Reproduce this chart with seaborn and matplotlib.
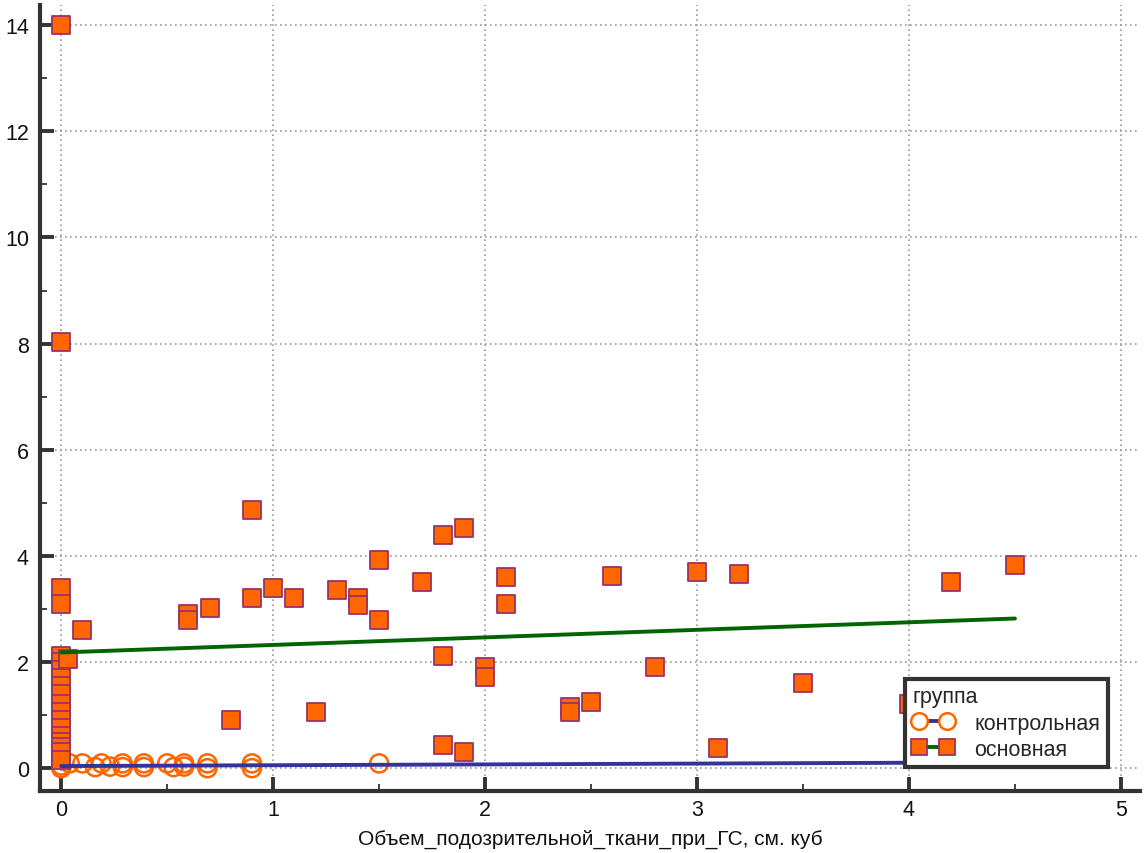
import matplotlib
matplotlib.use("Agg")
import matplotlib.pyplot as plt
from matplotlib.lines import Line2D
import seaborn as sns
import pandas as pd

# Main group (основная): volume of suspicious tissue vs. measured value
main_x = [0, 0, 0, 0, 0, 0, 0, 0, 0, 0, 0, 0, 0, 0, 0, 0, 0, 0, 0, 0.03,
          0.1, 0.6, 0.6, 0.7, 0.8, 0.9, 0.9, 1.0, 1.1, 1.2, 1.3, 1.4, 1.4,
          1.5, 1.5, 1.7, 1.8, 1.8, 1.8, 1.9, 1.9, 2.0, 2.0, 2.1, 2.1, 2.4,
          2.4, 2.5, 2.6, 2.8, 3.0, 3.1, 3.2, 3.5, 4.0, 4.2, 4.5]
main_y = [14.0, 8.03, 3.4, 3.1, 2.12, 2.0, 1.85, 1.7, 1.55, 1.4, 1.2, 1.05,
          0.9, 0.75, 0.6, 0.5, 0.4, 0.3, 0.15, 2.05,
          2.6, 2.9, 2.8, 3.02, 0.9, 4.87, 3.2, 3.4, 3.2, 1.05, 3.35, 3.2, 3.07,
          3.92, 2.8, 3.5, 4.4, 2.11, 0.43, 4.53, 0.3, 1.9, 1.71, 3.6, 3.1, 1.15,
          1.05, 1.24, 3.62, 1.9, 3.7, 0.38, 3.66, 1.6, 1.2, 3.5, 3.82]

# Control group (контрольная)
ctrl_x = [0, 0, 0.04, 0.1, 0.16, 0.19, 0.23, 0.29, 0.29, 0.39, 0.39, 0.5,
          0.53, 0.58, 0.58, 0.69, 0.69, 0.9, 0.9, 1.5]
ctrl_y = [0.05, 0.0, 0.09, 0.09, 0.02, 0.09, 0.03, 0.09, 0.02, 0.09, 0.02,
          0.09, 0.02, 0.09, 0.03, 0.09, 0.0, 0.09, 0.0, 0.09]

# Linear trend lines per group
main_fit_x = [0, 4.5]
main_fit_y = [2.18, 2.82]
ctrl_fit_x = [0, 4.5]
ctrl_fit_y = [0.04, 0.11]

group_names = ["контрольная", "основная"]
legend_title = "группа"
x_label = "Объем_подозрительной_ткани_при_ГС, см. куб"

x_ticks = [0, 1, 2, 3, 4, 5]
y_ticks = [0, 2, 4, 6, 8, 10, 12, 14]

ORANGE = "#FF6600"
PURPLE = "#993366"
GREEN = "#006400"
BLUE = "#333399"
SPINE = "#333333"
FS = 15.5

sns.set_theme(style="white")
plt.rcParams["font.family"] = ["Liberation Sans", "DejaVu Sans"]

fig = plt.figure(figsize=(11.44, 8.54), dpi=100)
ax = fig.add_axes([0.035, 0.0726, 0.9615, 0.9204])

df_main = pd.DataFrame({"x": main_x, "y": main_y})
df_ctrl = pd.DataFrame({"x": ctrl_x, "y": ctrl_y})

sns.scatterplot(data=df_ctrl, x="x", y="y", ax=ax, marker="o", s=170,
                facecolor="none", edgecolor=ORANGE, linewidth=1.8, zorder=3,
                legend=False)
sns.scatterplot(data=df_main, x="x", y="y", ax=ax, marker="s", s=150,
                color=ORANGE, edgecolor=PURPLE, linewidth=1.3, zorder=3,
                legend=False)

sns.lineplot(x=main_fit_x, y=main_fit_y, ax=ax, color=GREEN, linewidth=2.8,
             zorder=4, legend=False)
sns.lineplot(x=ctrl_fit_x, y=ctrl_fit_y, ax=ax, color=BLUE, linewidth=2.8,
             zorder=4, legend=False)

ax.set_xlim(-0.1, 5.09)
ax.set_ylim(-0.43, 14.38)
ax.set_xticks(x_ticks)
ax.set_yticks(y_ticks)
ax.set_xticks([0.5, 1.5, 2.5, 3.5, 4.5], minor=True)
ax.set_yticks([1, 3, 5, 7, 9, 11, 13], minor=True)
ax.set_xticklabels([str(v) for v in x_ticks])
ax.set_yticklabels([str(v) for v in y_ticks])

ax.grid(True, which="major", linestyle=(0, (1, 2)), color="#999999",
        linewidth=1.2)
ax.set_axisbelow(True)

for side in ["top", "right"]:
    ax.spines[side].set_visible(False)
for side in ["left", "bottom"]:
    ax.spines[side].set_color(SPINE)
    ax.spines[side].set_linewidth(3)

ax.tick_params(axis="both", which="major", direction="in", length=10,
               width=2.8, color=SPINE, labelsize=FS, labelcolor="#111111",
               left=True, bottom=True)
ax.tick_params(axis="both", which="minor", direction="in", length=5,
               width=1.3, color=SPINE, left=True, bottom=True)
ax.tick_params(axis="y", which="major", pad=8)
ax.tick_params(axis="x", which="major", pad=6)

ax.set_xlabel(x_label, fontsize=FS - 0.5, color="#111111", labelpad=6)
ax.set_ylabel("")

# Legend entries show each group's marker joined by its trend-line colour
handles = [
    Line2D([0, 1], [0, 0], color=BLUE, linewidth=2.8, marker="o",
           markersize=12, markerfacecolor="white", markeredgecolor=ORANGE,
           markeredgewidth=1.8),
    Line2D([0, 1], [0, 0], color=GREEN, linewidth=2.8, marker="s",
           markersize=11.5, markerfacecolor=ORANGE, markeredgecolor=PURPLE,
           markeredgewidth=1.3),
]
leg = ax.legend(handles, group_names, title=legend_title, loc="lower left",
                bbox_to_anchor=(0.786, 0.03), borderaxespad=0, numpoints=2,
                fontsize=FS, title_fontsize=FS, frameon=True, fancybox=False,
                handlelength=1.9, handletextpad=1.0, borderpad=0.35,
                labelspacing=0.25, alignment="left", framealpha=1)
leg.get_frame().set_edgecolor(SPINE)
leg.get_frame().set_linewidth(3)
leg.set_zorder(10)

fig.savefig("out.png", dpi=100)
